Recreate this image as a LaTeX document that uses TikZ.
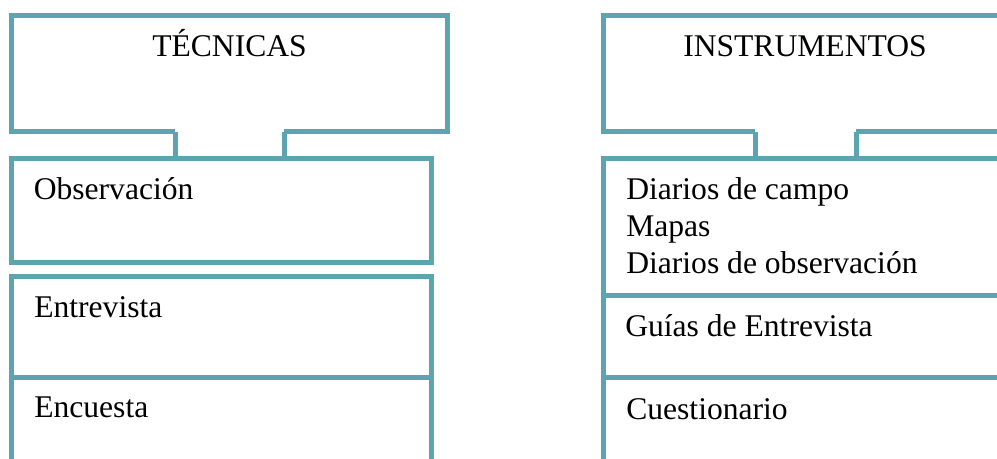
\documentclass[tikz,border=0pt]{standalone}
\usepackage{fontspec}
\setmainfont{Liberation Serif}
\definecolor{frame}{RGB}{91,164,176}
\begin{document}
\begin{tikzpicture}[x=0.75pt,y=-0.75pt,
  box/.style={draw=frame,line width=3.75pt,rectangle,inner sep=0pt,outer sep=0pt,anchor=north west},
  frameline/.style={draw=frame,line width=3.75pt,line join=miter},
  label/.style={inner sep=0pt,anchor=base west,font=\fontsize{23.7pt}{27.5pt}\selectfont},
  title/.style={inner sep=0pt,anchor=base,font=\fontsize{23.7pt}{27.5pt}\selectfont}]
\useasboundingbox (0,0) rectangle (997,459);
\clip (0,0) rectangle (997,459);

% ---------- left column: techniques ----------
\coordinate (tl-gapL) at (175,132);
\coordinate (tl-gapR) at (284,132);
\coordinate (tl-bl) at (11.5,132);
\coordinate (tl-tl) at (11.5,15.5);
\coordinate (tl-tr) at (447.5,15.5);
\coordinate (tl-br) at (447.5,132);
\draw[frameline] (tl-gapL) -- (tl-bl) -- (tl-tl) -- (tl-tr) -- (tl-br) -- (tl-gapR);
\node[title] (tec) at (229.5,57) {TÉCNICAS};

\node[box,minimum width=419.5*0.75pt,minimum height=103.5*0.75pt] (obs) at (11.5,159) {};
\node[box,minimum width=419.5*0.75pt,minimum height=100.5*0.75pt] (ent) at (11.5,277) {};
\node[box,minimum width=419.5*0.75pt,minimum height=150*0.75pt] (enc) at (11.5,377.5) {};
\draw[frameline] (tl-gapL) -- (tl-gapL |- obs.north);
\draw[frameline] (tl-gapR) -- (tl-gapR |- obs.north);

\node[label] (obs-t) at (33.5,200) {Observación};
\node[label] (ent-t) at (34,318) {Entrevista};
\node[label] (enc-t) at (34,418) {Encuesta};

% ---------- right column: instruments ----------
\coordinate (tr-gapL) at (755,132);
\coordinate (tr-gapR) at (856,132);
\coordinate (tr-bl) at (603,132);
\coordinate (tr-tl) at (603,15.5);
\coordinate (tr-tr) at (1007,15.5);
\coordinate (tr-br) at (1007,132);
\draw[frameline] (tr-gapL) -- (tr-bl) -- (tr-tl) -- (tr-tr) -- (tr-br) -- (tr-gapR);
\node[title] (ins) at (805,57) {INSTRUMENTOS};

\node[box,minimum width=420*0.75pt,minimum height=136.5*0.75pt] (dia) at (603,159) {};
\node[box,minimum width=420*0.75pt,minimum height=82*0.75pt] (gui) at (603,295.5) {};
\node[box,minimum width=420*0.75pt,minimum height=150*0.75pt] (cue) at (603,377.5) {};
\draw[frameline] (tr-gapL) -- (tr-gapL |- dia.north);
\draw[frameline] (tr-gapR) -- (tr-gapR |- dia.north);

\node[label] (dia-t1) at (626,200) {Diarios de campo};
\node[label] (dia-t2) at (626,236.7) {Mapas};
\node[label] (dia-t3) at (626,273.3) {Diarios de observación};
\node[label] (gui-t) at (625,336.7) {Guías de Entrevista};
\node[label] (cue-t) at (626,420) {Cuestionario};
\end{tikzpicture}
\end{document}
